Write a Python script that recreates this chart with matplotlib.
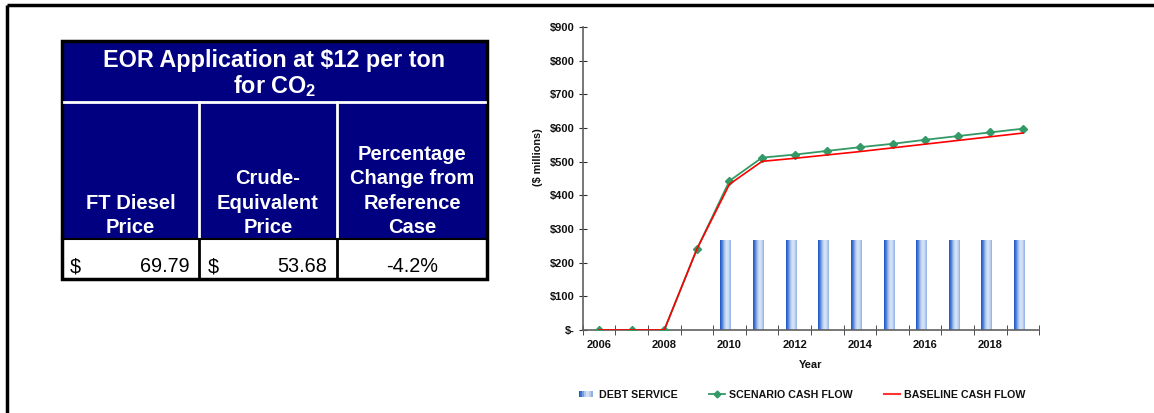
import numpy as np
import matplotlib
matplotlib.use('Agg')
import matplotlib.pyplot as plt
from matplotlib.colors import LinearSegmentedColormap
from matplotlib.patches import Rectangle
from matplotlib.lines import Line2D

plt.rcParams['font.family'] = ['Liberation Sans', 'DejaVu Sans']
plt.rcParams['mathtext.fontset'] = 'custom'
plt.rcParams['mathtext.rm'] = 'Liberation Sans:bold'
plt.rcParams['mathtext.it'] = 'Liberation Sans:bold'
plt.rcParams['mathtext.bf'] = 'Liberation Sans:bold'

# ---- data ----
years = [2006, 2007, 2008, 2009, 2010, 2011, 2012, 2013, 2014, 2015, 2016, 2017, 2018, 2019]
scenario_cf = [0, 0, 0, 240, 443, 512, 521, 532, 543, 553, 565, 576, 587, 598]
baseline_cf = [0, 0, 0, 240, 433, 501, 510, 520, 530, 541, 552, 563, 574, 585]
debt_years = [2010, 2011, 2012, 2013, 2014, 2015, 2016, 2017, 2018, 2019]
debt_service = [267, 267, 267, 267, 267, 267, 267, 267, 267, 267]
y_ticks = [0, 100, 200, 300, 400, 500, 600, 700, 800, 900]
y_tick_labels = ['$-', '$100', '$200', '$300', '$400', '$500', '$600', '$700', '$800', '$900']

table_title = 'EOR Application at $12 per ton\nfor CO$_2$'
col_headers = ['FT Diesel\nPrice', 'Crude-\nEquivalent\nPrice', 'Percentage\nChange from\nReference\nCase']
ft_diesel_price = 69.79
crude_equiv_price = 53.68
pct_change = -4.2

W, H = 1154, 413
fig = plt.figure(figsize=(W / 100, H / 100), dpi=100)

# ---- overlay axes in pixel coordinates for frame + table ----
bg = fig.add_axes([0, 0, 1, 1])
bg.set_xlim(0, W)
bg.set_ylim(H, 0)
bg.axis('off')
bg.plot([6.5, W], [5, 5], color='black', lw=2.5, solid_capstyle='butt')
bg.plot([6.5, 6.5], [5, H], color='black', lw=2.5, solid_capstyle='butt')

navy = '#000080'
tx0, tx1 = 62, 487
ty0, ty_title, ty_head, ty1 = 41, 102, 239, 279
col_x = [tx0, 199, 337, tx1]

bg.add_patch(Rectangle((tx0, ty0), tx1 - tx0, ty_head - ty0, facecolor=navy, edgecolor='none'))
bg.plot([tx0 + 2, tx1 - 2], [ty_title, ty_title], color='white', lw=2)
for cx in col_x[1:3]:
    bg.plot([cx, cx], [ty_title, ty_head], color='white', lw=2)
    bg.plot([cx, cx], [ty_head, ty1], color='black', lw=2)
bg.add_patch(Rectangle((tx0, ty0), tx1 - tx0, ty1 - ty0, facecolor='none', edgecolor='black', lw=2.5))
bg.plot([tx0, tx1], [ty_head, ty_head], color='black', lw=1.5)

bg.text((tx0 + tx1) / 2, 74, table_title, color='white', fontsize=16.8, fontweight='bold',
        ha='center', va='center', linespacing=1.1)
for i, h in enumerate(col_headers):
    bg.text((col_x[i] + col_x[i + 1]) / 2, 233, h, color='white', fontsize=14.5,
            fontweight='bold', ha='center', va='baseline', linespacing=1.36)

row_y = 267
bg.text(70, row_y, '$', fontsize=14.3, va='center', ha='left')
bg.text(190, row_y, f'{ft_diesel_price:.2f}', fontsize=14.3, va='center', ha='right')
bg.text(208, row_y, '$', fontsize=14.3, va='center', ha='left')
bg.text(327, row_y, f'{crude_equiv_price:.2f}', fontsize=14.3, va='center', ha='right')
bg.text((col_x[2] + col_x[3]) / 2, row_y, f'{pct_change:.1f}%', fontsize=14.3, va='center', ha='center')

# ---- chart ----
ax = fig.add_axes([582.7 / W, 1 - 330 / H, (1039.3 - 582.7) / W, (330 - 27) / H])
xi = np.arange(len(years))
dx = np.array([years.index(y) for y in debt_years])

grad_cmap = LinearSegmentedColormap.from_list(
    'debt', ['#1f52c2', '#4a82db', '#a9c3ec', '#dbe6f7', '#c9d9f2', '#8fb0e6'])
bars = ax.bar(dx - 0.12, debt_service, width=0.31, color='#7ea2e0', zorder=2, label='DEBT SERVICE')
grad = np.linspace(0, 1, 64).reshape(1, -1)
for p in bars.patches:
    x0, w, h = p.get_x(), p.get_width(), p.get_height()
    im = ax.imshow(grad, extent=[x0, x0 + w, 0, h], aspect='auto', cmap=grad_cmap, zorder=2.1)
    im.set_clip_path(p)
    p.set_facecolor('none')

ax.plot(xi, scenario_cf, color='#339966', lw=1.3, marker='D', markersize=4,
        zorder=3, label='SCENARIO CASH FLOW')
ax.plot(xi, baseline_cf, color='#ff0000', lw=1.2, zorder=4, label='BASELINE CASH FLOW')

ax.set_xlim(-0.5, len(years) - 0.5)
ax.set_ylim(0, 900)
for s in ['top', 'right']:
    ax.spines[s].set_visible(False)
for s in ['left', 'bottom']:
    ax.spines[s].set_color('#606060')
    ax.spines[s].set_linewidth(1.2)

ax.set_yticks(y_ticks)
ax.set_yticklabels(y_tick_labels)
ax.tick_params(axis='y', direction='inout', length=6, color='#303030', labelsize=8, pad=3)
ax.set_xticks(xi[::2])
ax.set_xticklabels([str(y) for y in years[::2]])
ax.set_xticks(np.arange(-0.5, len(years), 1), minor=True)
ax.tick_params(axis='x', which='major', length=0, labelsize=8, pad=7)
ax.tick_params(axis='x', which='minor', direction='inout', length=7, color='#303030')
for lab in ax.get_xticklabels() + ax.get_yticklabels():
    lab.set_fontweight('bold')
    lab.set_color('#111111')

ax.set_xlabel('Year', fontsize=8, fontweight='bold', color='#111111')
ax.xaxis.set_label_coords(0.5, -0.10)
ax.set_ylabel('($ millions)', fontsize=7.8, fontweight='bold', color='#111111')
ax.yaxis.set_label_coords(-0.088, 0.57)


class GradHandler:
    def legend_artist(self, legend, orig_handle, fontsize, handlebox):
        x0, y0 = handlebox.xdescent, handlebox.ydescent
        w, h = handlebox.width * 0.9, handlebox.height * 0.8
        n = 8
        cols = grad_cmap(np.linspace(0, 1, n))
        for k in range(n):
            r = Rectangle((x0 + k * w / n, y0 + h * 0.1), w / n + 0.3, h, facecolor=cols[k],
                          edgecolor='none', transform=handlebox.get_transform())
            handlebox.add_artist(r)
        return r


handles = [bars,
           Line2D([], [], color='#339966', lw=1.3, marker='D', markersize=3.5),
           Line2D([], [], color='#ff3333', lw=1.5)]
labels = ['DEBT SERVICE', 'SCENARIO CASH FLOW', 'BASELINE CASH FLOW']
leg = fig.legend(handles, labels, loc='center', bbox_to_anchor=(802 / W, 1 - 395 / H),
                 ncol=3, frameon=False, prop={'size': 7.7, 'weight': 'bold'},
                 handlelength=1.5, handletextpad=0.4, columnspacing=2.9,
                 handler_map={type(bars): GradHandler()})
for t in leg.get_texts():
    t.set_color('#111111')

fig.savefig('out.png', dpi=100)
